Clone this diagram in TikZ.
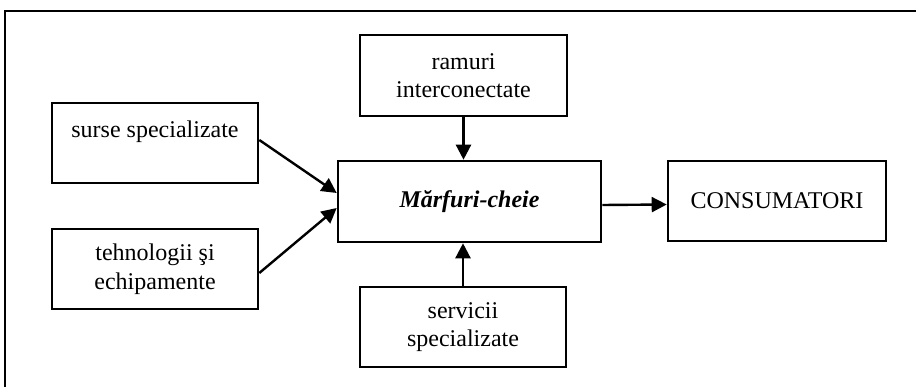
\documentclass[tikz,border=0pt]{standalone}
\usepackage{fontspec}
\setmainfont{Liberation Serif}
\usetikzlibrary{arrows.meta, calc}

\begin{document}
\begin{tikzpicture}[x=1pt, y=-1pt, >={Triangle[length=15pt, width=15pt]},
  every node/.style={font=\fontsize{24}{28.5}\selectfont},
  box/.style={draw, line width=2.6pt, align=center, inner sep=0pt, minimum width=206pt, minimum height=80pt}]
\useasboundingbox (0,0) rectangle (916,387);
\draw[line width=1.4pt] (5,387) -- (5,11) -- (916,11);
\node[box] (surse) at (155,143) {surse specializate\\ \mbox{}};
\node[box] (tehno) at (155,269) {tehnologii şi\\ echipamente};
\node[box, minimum width=207pt, minimum height=81pt] (ramuri) at (463.5,75.5) {ramuri\\ interconectate};
\node[box] (servicii) at (463,327) {servicii\\ specializate};
\node[box, minimum width=263pt, minimum height=81pt] (marfuri) at (469.5,201.5) {\textbf{\textit{Mărfuri-cheie}}};
\node[box, minimum width=218pt] (consum) at (777,201) {CONSUMATORI};
\draw[->, line width=2.4pt] ([yshift=3pt]surse.east) -- ([yshift=8.5pt]marfuri.west);
\draw[->, line width=2.4pt] ([yshift=-4pt]tehno.east) -- ([yshift=-6.5pt]marfuri.west);
\draw[->, line width=2.4pt] (ramuri.south) -- (ramuri.south |- marfuri.north);
\draw[->, line width=2.4pt] (servicii.north) -- (servicii.north |- marfuri.south);
\draw[->, line width=2.4pt] ([yshift=-3.5pt]marfuri.east) -- ([yshift=-3.5pt]consum.west);
\end{tikzpicture}
\end{document}
